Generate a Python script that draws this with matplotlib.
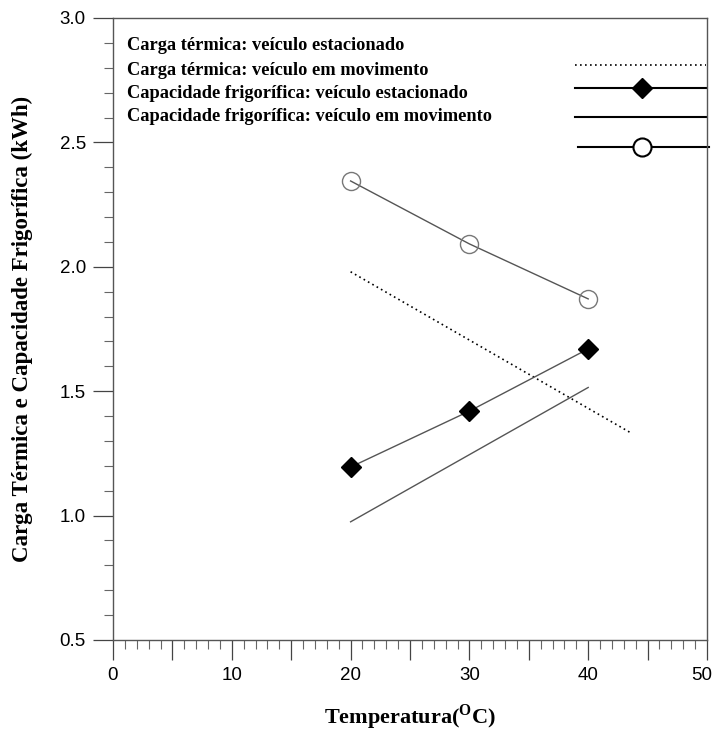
import matplotlib
matplotlib.use("Agg")
import matplotlib.pyplot as plt
from matplotlib.ticker import MultipleLocator, FuncFormatter
from matplotlib.transforms import ScaledTranslation

plt.rcParams["font.family"] = ["Liberation Sans", "DejaVu Sans"]
plt.rcParams["mathtext.fontset"] = "custom"
plt.rcParams["mathtext.bf"] = "Liberation Serif:bold"
plt.rcParams["mathtext.rm"] = "Liberation Serif:bold"

# Carga térmica: veículo estacionado (dotted)
carga_est_x = [20, 43.5]
carga_est_y = [1.98, 1.335]
# Carga térmica: veículo em movimento (solid, no markers)
carga_mov_x = [20, 40]
carga_mov_y = [0.975, 1.515]
# Capacidade frigorífica: veículo estacionado (filled diamonds)
cap_est_x = [20, 30, 40]
cap_est_y = [1.195, 1.42, 1.67]
# Capacidade frigorífica: veículo em movimento (open circles)
cap_mov_x = [20, 30, 40]
cap_mov_y = [2.345, 2.092, 1.871]

legend_labels = [
    "Carga térmica: veículo estacionado",
    "Carga térmica: veículo em movimento",
    "Capacidade frigorífica: veículo estacionado",
    "Capacidade frigorífica: veículo em movimento",
]

serif = ["Liberation Serif", "DejaVu Serif"]
line_color = "#555555"

fig = plt.figure(figsize=(7.15, 7.31), dpi=100)
ax = fig.add_axes([113 / 715, 91 / 731, 594 / 715, 622 / 731])

ax.plot(carga_est_x, carga_est_y, color="black", lw=1.2, ls=(0, (1, 2)))
ax.plot(carga_mov_x, carga_mov_y, color=line_color, lw=1.0)
ax.plot(cap_est_x, cap_est_y, color=line_color, lw=1.0, marker="D",
        markersize=10, markerfacecolor="black", markeredgecolor="black")
ax.plot(cap_mov_x, cap_mov_y, color=line_color, lw=1.0, marker="o",
        markersize=13, markerfacecolor="none", markeredgecolor="#777777",
        markeredgewidth=1.0)

ax.set_xlim(0, 50)
ax.set_ylim(0.5, 3.0)
ax.xaxis.set_major_locator(MultipleLocator(5))
ax.xaxis.set_minor_locator(MultipleLocator(1))
ax.xaxis.set_major_formatter(FuncFormatter(lambda v, p: f"{v:.0f}" if v % 10 == 0 else ""))
ax.yaxis.set_major_locator(MultipleLocator(0.5))
ax.yaxis.set_minor_locator(MultipleLocator(0.1))
ax.yaxis.set_major_formatter(FuncFormatter(lambda v, p: f"{v:.1f}"))
ax.tick_params(axis="both", which="major", direction="out", length=14.5,
               width=0.9, color="#444444", labelsize=13.5, pad=5)
ax.tick_params(axis="both", which="minor", direction="out", length=6.5,
               width=0.8, color="#666666")
for s in ax.spines.values():
    s.set_color("#555555")
    s.set_linewidth(1.0)

ax.set_xlabel(r"Temperatura($^{\mathbf{O}}$C)", fontfamily=serif,
              fontweight="bold", fontsize=16, labelpad=13)
ax.set_ylabel("Carga Térmica e Capacidade Frigorífica (kWh)", fontfamily=serif,
              fontweight="bold", fontsize=16.5, labelpad=19)

# hand-placed legend: labels on the left, sample lines on the right
label_y = [0.955, 0.915, 0.878, 0.841]
for lab, yy in zip(legend_labels, label_y):
    ax.text(0.024, yy, lab, transform=ax.transAxes, fontfamily=serif,
            fontweight="bold", fontsize=13.2, va="center", ha="left")

ax.plot([0.778, 0.998], [0.925, 0.925], transform=ax.transAxes,
        color="black", lw=1.2, ls=(0, (1, 2)), clip_on=False)
ax.plot([0.778, 0.998], [0.888, 0.888], transform=ax.transAxes,
        color="black", lw=1.5, clip_on=False)
ax.plot([0.89], [0.888], transform=ax.transAxes, marker="D", markersize=10,
        color="black", clip_on=False)
ax.plot([0.778, 0.998], [0.841, 0.841], transform=ax.transAxes,
        color="black", lw=1.5, clip_on=False)
ax.plot([0.783, 1.003], [0.792, 0.792], transform=ax.transAxes,
        color="black", lw=1.5, clip_on=False)
ax.plot([0.89], [0.792], transform=ax.transAxes, marker="o", markersize=13,
        markerfacecolor="white", markeredgecolor="black", markeredgewidth=1.5,
        clip_on=False)

# nudge the "50" label left so it stays on the canvas
fig.canvas.draw()
for tick in ax.xaxis.get_major_ticks():
    if tick.label1.get_text() == "50":
        tick.label1.set_transform(tick.label1.get_transform()
                                  + ScaledTranslation(-5 / 100, 0, fig.dpi_scale_trans))

fig.savefig("out.png", dpi=100)
